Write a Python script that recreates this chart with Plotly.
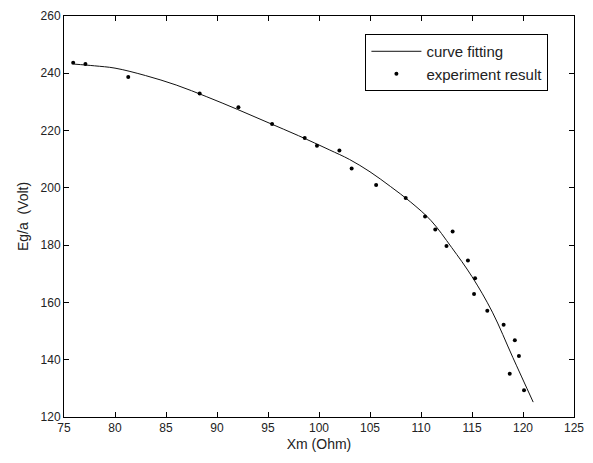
import plotly.graph_objects as go

# Fitted curve
fit_x = [76, 78, 80, 83, 86, 89, 92, 95, 98, 101, 103, 105, 107, 109, 111, 113, 115, 117, 119, 121]
fit_y = [243.2, 242.6, 241.8, 239.2, 235.9, 231.8, 227.4, 222.8, 218.2, 213.3, 209.9, 205.6,
         200.5, 195.0, 188.5, 179.2, 169.0, 156.6, 140.8, 125.2]

# Experimental points
exp_x = [75.9, 77.1, 81.3, 88.3, 92.1, 95.4, 98.6, 99.8, 102.0, 103.2, 105.6, 108.5, 110.4,
         111.4, 112.5, 113.1, 114.6, 115.3, 115.2, 116.5, 118.1, 119.2, 119.6, 118.7, 120.1]
exp_y = [243.7, 243.2, 238.7, 232.9, 228.1, 222.3, 217.4, 214.7, 213.0, 206.8, 201.0, 196.5,
         190.0, 185.5, 179.7, 184.8, 174.6, 168.4, 162.9, 157.1, 152.2, 146.8, 141.3, 135.1, 129.3]

x_ticks = [75, 80, 85, 90, 95, 100, 105, 110, 115, 120, 125]
y_ticks = [120, 140, 160, 180, 200, 220, 240, 260]

fig = go.Figure()
fig.add_trace(go.Scatter(x=fit_x, y=fit_y, mode="lines", name="curve fitting",
                         line=dict(color="#111111", width=1, shape="spline")))
fig.add_trace(go.Scatter(x=exp_x, y=exp_y, mode="markers", name="experiment result",
                         marker=dict(color="black", size=4)))

axis_common = dict(showgrid=False, zeroline=False, showline=True, linecolor="black",
                   linewidth=1, mirror="ticks", ticks="inside", ticklen=5,
                   tickcolor="black", tickfont=dict(family="Liberation Sans", size=12, color="#222"))

fig.update_layout(
    width=593, height=463,
    margin=dict(l=64, r=11, t=9, b=46),
    paper_bgcolor="white", plot_bgcolor="white",
    font=dict(family="Liberation Sans", size=12, color="#222"),
    xaxis=dict(range=[75, 125], tickvals=x_ticks,
               title=dict(text="Xm (Ohm)", standoff=4), **axis_common),
    yaxis=dict(range=[120, 260], tickvals=y_ticks,
               title=dict(text="Eg/a  (Volt)", standoff=8), **axis_common),
    legend=dict(x=0.591, y=0.955, xanchor="left", yanchor="top",
                bordercolor="black", borderwidth=1, bgcolor="white",
                font=dict(family="Liberation Sans", size=15, color="#222"),
                tracegroupgap=0, itemwidth=50),
    showlegend=True,
)

fig.write_html("out.html")
